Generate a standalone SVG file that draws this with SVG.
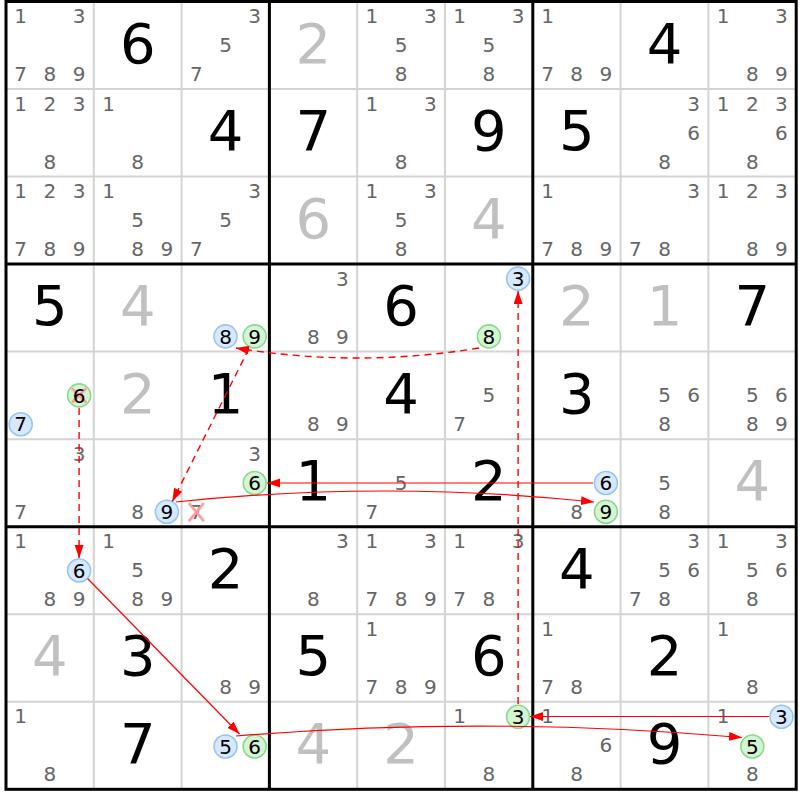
<svg xmlns="http://www.w3.org/2000/svg" width="800" height="800" viewBox="0 0 800 800">
<style>
text{font-family:"DejaVu Sans",Verdana,sans-serif;text-anchor:middle}
.c{font-size:20px;fill:#666}
.k{font-size:20px;fill:#000}
.g{font-size:56px;fill:#000}
.s{font-size:56px;fill:#c0c0c0}
.bl{fill:#d6e9ff;stroke:#96c5f3;stroke-width:1.6}
.gr{fill:#d4f4d4;stroke:#8ad98a;stroke-width:1.6}
.x{stroke:#ff9c9c;stroke-width:2.6;fill:none}
.thin{stroke:#d4d4d4;stroke-width:2}
.thick{stroke:#000;stroke-width:3}
.dash{fill:none;stroke:#ff0000;stroke-width:1.4;stroke-dasharray:7 5;marker-end:url(#ah)}
.solid{fill:none;stroke:#ff0000;stroke-width:1.2;marker-end:url(#ah)}
</style>
<defs>
<marker id="ah" markerUnits="userSpaceOnUse" markerWidth="14" markerHeight="10" refX="13" refY="4.5" orient="auto">
<path d="M0,0 L13,4.5 L0,9 z" fill="#ff0000"/>
</marker>
</defs>
<rect x="0" y="0" width="800" height="800" fill="#fff"/>
<g id="grid">
<path class="thin" d="M93.8,1.5V789.3M181.6,1.5V789.3M357.2,1.5V789.3M445,1.5V789.3M620.6,1.5V789.3M708.4,1.5V789.3M6,89H796.2M6,176.6H796.2M6,351.6H796.2M6,439.2H796.2M6,614.2H796.2M6,701.7H796.2"/>
<path class="thick" d="M269.4,1.5V789.3M532.8,1.5V789.3M6,264.1H796.2M6,526.7H796.2"/>
<rect x="6" y="1.5" width="790.2" height="787.8" fill="none" stroke="#000" stroke-width="3"/>
</g>
<!-- Row 0 -->
<g id="r0c0" transform="translate(6,1.5)"><text class="c" x="14.7" y="21.5">1</text><text class="c" x="73.1" y="21.5">3</text><text class="c" x="14.7" y="79.8">7</text><text class="c" x="43.9" y="79.8">8</text><text class="c" x="73.1" y="79.8">9</text></g>
<g id="r0c1" transform="translate(93.8,1.5)"><text class="g" x="43.9" y="61">6</text></g>
<g id="r0c2" transform="translate(181.6,1.5)"><text class="c" x="73.1" y="21.5">3</text><text class="c" x="43.9" y="50.6">5</text><text class="c" x="14.7" y="79.8">7</text></g>
<g id="r0c3" transform="translate(269.4,1.5)"><text class="s" x="43.9" y="61">2</text></g>
<g id="r0c4" transform="translate(357.2,1.5)"><text class="c" x="14.7" y="21.5">1</text><text class="c" x="73.1" y="21.5">3</text><text class="c" x="43.9" y="50.6">5</text><text class="c" x="43.9" y="79.8">8</text></g>
<g id="r0c5" transform="translate(445,1.5)"><text class="c" x="14.7" y="21.5">1</text><text class="c" x="73.1" y="21.5">3</text><text class="c" x="43.9" y="50.6">5</text><text class="c" x="43.9" y="79.8">8</text></g>
<g id="r0c6" transform="translate(532.8,1.5)"><text class="c" x="14.7" y="21.5">1</text><text class="c" x="14.7" y="79.8">7</text><text class="c" x="43.9" y="79.8">8</text><text class="c" x="73.1" y="79.8">9</text></g>
<g id="r0c7" transform="translate(620.6,1.5)"><text class="g" x="43.9" y="61">4</text></g>
<g id="r0c8" transform="translate(708.4,1.5)"><text class="c" x="14.7" y="21.5">1</text><text class="c" x="73.1" y="21.5">3</text><text class="c" x="43.9" y="79.8">8</text><text class="c" x="73.1" y="79.8">9</text></g>
<!-- Row 1 -->
<g id="r1c0" transform="translate(6,89)"><text class="c" x="14.7" y="21.5">1</text><text class="c" x="43.9" y="21.5">2</text><text class="c" x="73.1" y="21.5">3</text><text class="c" x="43.9" y="79.8">8</text></g>
<g id="r1c1" transform="translate(93.8,89)"><text class="c" x="14.7" y="21.5">1</text><text class="c" x="43.9" y="79.8">8</text></g>
<g id="r1c2" transform="translate(181.6,89)"><text class="g" x="43.9" y="61">4</text></g>
<g id="r1c3" transform="translate(269.4,89)"><text class="g" x="43.9" y="61">7</text></g>
<g id="r1c4" transform="translate(357.2,89)"><text class="c" x="14.7" y="21.5">1</text><text class="c" x="73.1" y="21.5">3</text><text class="c" x="43.9" y="79.8">8</text></g>
<g id="r1c5" transform="translate(445,89)"><text class="g" x="43.9" y="61">9</text></g>
<g id="r1c6" transform="translate(532.8,89)"><text class="g" x="43.9" y="61">5</text></g>
<g id="r1c7" transform="translate(620.6,89)"><text class="c" x="73.1" y="21.5">3</text><text class="c" x="73.1" y="50.6">6</text><text class="c" x="43.9" y="79.8">8</text></g>
<g id="r1c8" transform="translate(708.4,89)"><text class="c" x="14.7" y="21.5">1</text><text class="c" x="43.9" y="21.5">2</text><text class="c" x="73.1" y="21.5">3</text><text class="c" x="73.1" y="50.6">6</text><text class="c" x="43.9" y="79.8">8</text></g>
<!-- Row 2 -->
<g id="r2c0" transform="translate(6,176.6)"><text class="c" x="14.7" y="21.5">1</text><text class="c" x="43.9" y="21.5">2</text><text class="c" x="73.1" y="21.5">3</text><text class="c" x="14.7" y="79.8">7</text><text class="c" x="43.9" y="79.8">8</text><text class="c" x="73.1" y="79.8">9</text></g>
<g id="r2c1" transform="translate(93.8,176.6)"><text class="c" x="14.7" y="21.5">1</text><text class="c" x="43.9" y="50.6">5</text><text class="c" x="43.9" y="79.8">8</text><text class="c" x="73.1" y="79.8">9</text></g>
<g id="r2c2" transform="translate(181.6,176.6)"><text class="c" x="73.1" y="21.5">3</text><text class="c" x="43.9" y="50.6">5</text><text class="c" x="14.7" y="79.8">7</text></g>
<g id="r2c3" transform="translate(269.4,176.6)"><text class="s" x="43.9" y="61">6</text></g>
<g id="r2c4" transform="translate(357.2,176.6)"><text class="c" x="14.7" y="21.5">1</text><text class="c" x="73.1" y="21.5">3</text><text class="c" x="43.9" y="50.6">5</text><text class="c" x="43.9" y="79.8">8</text></g>
<g id="r2c5" transform="translate(445,176.6)"><text class="s" x="43.9" y="61">4</text></g>
<g id="r2c6" transform="translate(532.8,176.6)"><text class="c" x="14.7" y="21.5">1</text><text class="c" x="14.7" y="79.8">7</text><text class="c" x="43.9" y="79.8">8</text><text class="c" x="73.1" y="79.8">9</text></g>
<g id="r2c7" transform="translate(620.6,176.6)"><text class="c" x="73.1" y="21.5">3</text><text class="c" x="14.7" y="79.8">7</text><text class="c" x="43.9" y="79.8">8</text></g>
<g id="r2c8" transform="translate(708.4,176.6)"><text class="c" x="14.7" y="21.5">1</text><text class="c" x="43.9" y="21.5">2</text><text class="c" x="73.1" y="21.5">3</text><text class="c" x="43.9" y="79.8">8</text><text class="c" x="73.1" y="79.8">9</text></g>
<!-- Row 3 -->
<g id="r3c0" transform="translate(6,264.1)"><text class="g" x="43.9" y="61">5</text></g>
<g id="r3c1" transform="translate(93.8,264.1)"><text class="s" x="43.9" y="61">4</text></g>
<g id="r3c2" transform="translate(181.6,264.1)"><circle class="bl" cx="43.9" cy="72.3" r="11.5"/><text class="k" x="43.9" y="79.6">8</text><circle class="gr" cx="73.1" cy="72.3" r="11.5"/><text class="k" x="73.1" y="79.6">9</text></g>
<g id="r3c3" transform="translate(269.4,264.1)"><text class="c" x="73.1" y="21.5">3</text><text class="c" x="43.9" y="79.8">8</text><text class="c" x="73.1" y="79.8">9</text></g>
<g id="r3c4" transform="translate(357.2,264.1)"><text class="g" x="43.9" y="61">6</text></g>
<g id="r3c5" transform="translate(445,264.1)"><circle class="bl" cx="73.1" cy="14.5" r="11.5"/><text class="k" x="73.1" y="21.8">3</text><circle class="gr" cx="43.9" cy="72.3" r="11.5"/><text class="k" x="43.9" y="79.6">8</text></g>
<g id="r3c6" transform="translate(532.8,264.1)"><text class="s" x="43.9" y="61">2</text></g>
<g id="r3c7" transform="translate(620.6,264.1)"><text class="s" x="43.9" y="61">1</text></g>
<g id="r3c8" transform="translate(708.4,264.1)"><text class="g" x="43.9" y="61">7</text></g>
<!-- Row 4 -->
<g id="r4c0" transform="translate(6,351.6)"><circle class="gr" cx="73.1" cy="43.8" r="11.5"/><path class="x" d="M66,36.7L80.2,50.9M80.2,36.7L66,50.9"/><text class="k" x="73.1" y="51.1">6</text><circle class="bl" cx="14.7" cy="72.6" r="11.5"/><text class="k" x="14.7" y="79.9">7</text></g>
<g id="r4c1" transform="translate(93.8,351.6)"><text class="s" x="43.9" y="61">2</text></g>
<g id="r4c2" transform="translate(181.6,351.6)"><text class="g" x="43.9" y="61">1</text></g>
<g id="r4c3" transform="translate(269.4,351.6)"><text class="c" x="43.9" y="79.8">8</text><text class="c" x="73.1" y="79.8">9</text></g>
<g id="r4c4" transform="translate(357.2,351.6)"><text class="g" x="43.9" y="61">4</text></g>
<g id="r4c5" transform="translate(445,351.6)"><text class="c" x="43.9" y="50.6">5</text><text class="c" x="14.7" y="79.8">7</text></g>
<g id="r4c6" transform="translate(532.8,351.6)"><text class="g" x="43.9" y="61">3</text></g>
<g id="r4c7" transform="translate(620.6,351.6)"><text class="c" x="43.9" y="50.6">5</text><text class="c" x="73.1" y="50.6">6</text><text class="c" x="43.9" y="79.8">8</text></g>
<g id="r4c8" transform="translate(708.4,351.6)"><text class="c" x="43.9" y="50.6">5</text><text class="c" x="73.1" y="50.6">6</text><text class="c" x="43.9" y="79.8">8</text><text class="c" x="73.1" y="79.8">9</text></g>
<!-- Row 5 -->
<g id="r5c0" transform="translate(6,439.2)"><text class="c" x="73.1" y="21.5">3</text><text class="c" x="14.7" y="79.8">7</text></g>
<g id="r5c1" transform="translate(93.8,439.2)"><text class="c" x="43.9" y="79.8">8</text><circle class="bl" cx="73.1" cy="72.6" r="11.5"/><text class="k" x="73.1" y="79.9">9</text></g>
<g id="r5c2" transform="translate(181.6,439.2)"><text class="c" x="73.1" y="21.5">3</text><circle class="gr" cx="73.1" cy="43.8" r="11.5"/><text class="k" x="73.1" y="51.1">6</text><text class="c" x="14.7" y="79.8">7</text><path class="x" d="M7.2,63.9L22.2,81.9M22.2,63.9L7.2,81.9"/></g>
<g id="r5c3" transform="translate(269.4,439.2)"><text class="g" x="43.9" y="61">1</text></g>
<g id="r5c4" transform="translate(357.2,439.2)"><text class="c" x="43.9" y="50.6">5</text><text class="c" x="14.7" y="79.8">7</text></g>
<g id="r5c5" transform="translate(445,439.2)"><text class="g" x="43.9" y="61">2</text></g>
<g id="r5c6" transform="translate(532.8,439.2)"><circle class="bl" cx="73.1" cy="43.8" r="11.5"/><text class="k" x="73.1" y="51.1">6</text><text class="c" x="43.9" y="79.8">8</text><circle class="gr" cx="73.1" cy="72.6" r="11.5"/><text class="k" x="73.1" y="79.9">9</text></g>
<g id="r5c7" transform="translate(620.6,439.2)"><text class="c" x="43.9" y="50.6">5</text><text class="c" x="43.9" y="79.8">8</text></g>
<g id="r5c8" transform="translate(708.4,439.2)"><text class="s" x="43.9" y="61">4</text></g>
<!-- Row 6 -->
<g id="r6c0" transform="translate(6,526.7)"><text class="c" x="14.7" y="21.5">1</text><circle class="bl" cx="73.1" cy="43.8" r="11.5"/><text class="k" x="73.1" y="51.1">6</text><text class="c" x="43.9" y="79.8">8</text><text class="c" x="73.1" y="79.8">9</text></g>
<g id="r6c1" transform="translate(93.8,526.7)"><text class="c" x="14.7" y="21.5">1</text><text class="c" x="43.9" y="50.6">5</text><text class="c" x="43.9" y="79.8">8</text><text class="c" x="73.1" y="79.8">9</text></g>
<g id="r6c2" transform="translate(181.6,526.7)"><text class="g" x="43.9" y="61">2</text></g>
<g id="r6c3" transform="translate(269.4,526.7)"><text class="c" x="73.1" y="21.5">3</text><text class="c" x="43.9" y="79.8">8</text></g>
<g id="r6c4" transform="translate(357.2,526.7)"><text class="c" x="14.7" y="21.5">1</text><text class="c" x="73.1" y="21.5">3</text><text class="c" x="14.7" y="79.8">7</text><text class="c" x="43.9" y="79.8">8</text><text class="c" x="73.1" y="79.8">9</text></g>
<g id="r6c5" transform="translate(445,526.7)"><text class="c" x="14.7" y="21.5">1</text><text class="c" x="73.1" y="21.5">3</text><text class="c" x="14.7" y="79.8">7</text><text class="c" x="43.9" y="79.8">8</text></g>
<g id="r6c6" transform="translate(532.8,526.7)"><text class="g" x="43.9" y="61">4</text></g>
<g id="r6c7" transform="translate(620.6,526.7)"><text class="c" x="73.1" y="21.5">3</text><text class="c" x="43.9" y="50.6">5</text><text class="c" x="73.1" y="50.6">6</text><text class="c" x="14.7" y="79.8">7</text><text class="c" x="43.9" y="79.8">8</text></g>
<g id="r6c8" transform="translate(708.4,526.7)"><text class="c" x="14.7" y="21.5">1</text><text class="c" x="73.1" y="21.5">3</text><text class="c" x="43.9" y="50.6">5</text><text class="c" x="73.1" y="50.6">6</text><text class="c" x="43.9" y="79.8">8</text></g>
<!-- Row 7 -->
<g id="r7c0" transform="translate(6,614.2)"><text class="s" x="43.9" y="61">4</text></g>
<g id="r7c1" transform="translate(93.8,614.2)"><text class="g" x="43.9" y="61">3</text></g>
<g id="r7c2" transform="translate(181.6,614.2)"><text class="c" x="43.9" y="79.8">8</text><text class="c" x="73.1" y="79.8">9</text></g>
<g id="r7c3" transform="translate(269.4,614.2)"><text class="g" x="43.9" y="61">5</text></g>
<g id="r7c4" transform="translate(357.2,614.2)"><text class="c" x="14.7" y="21.5">1</text><text class="c" x="14.7" y="79.8">7</text><text class="c" x="43.9" y="79.8">8</text><text class="c" x="73.1" y="79.8">9</text></g>
<g id="r7c5" transform="translate(445,614.2)"><text class="g" x="43.9" y="61">6</text></g>
<g id="r7c6" transform="translate(532.8,614.2)"><text class="c" x="14.7" y="21.5">1</text><text class="c" x="14.7" y="79.8">7</text><text class="c" x="43.9" y="79.8">8</text></g>
<g id="r7c7" transform="translate(620.6,614.2)"><text class="g" x="43.9" y="61">2</text></g>
<g id="r7c8" transform="translate(708.4,614.2)"><text class="c" x="14.7" y="21.5">1</text><text class="c" x="43.9" y="79.8">8</text></g>
<!-- Row 8 -->
<g id="r8c0" transform="translate(6,701.7)"><text class="c" x="14.7" y="21.5">1</text><text class="c" x="43.9" y="79.8">8</text></g>
<g id="r8c1" transform="translate(93.8,701.7)"><text class="g" x="43.9" y="61">7</text></g>
<g id="r8c2" transform="translate(181.6,701.7)"><circle class="bl" cx="43.9" cy="44.8" r="11.5"/><text class="k" x="43.9" y="52.1">5</text><circle class="gr" cx="73.1" cy="44.8" r="11.5"/><text class="k" x="73.1" y="52.1">6</text></g>
<g id="r8c3" transform="translate(269.4,701.7)"><text class="s" x="43.9" y="61">4</text></g>
<g id="r8c4" transform="translate(357.2,701.7)"><text class="s" x="43.9" y="61">2</text></g>
<g id="r8c5" transform="translate(445,701.7)"><text class="c" x="14.7" y="21.5">1</text><circle class="gr" cx="73.1" cy="15" r="11.5"/><text class="k" x="73.1" y="22.3">3</text><text class="c" x="43.9" y="79.8">8</text></g>
<g id="r8c6" transform="translate(532.8,701.7)"><text class="c" x="14.7" y="21.5">1</text><text class="c" x="73.1" y="50.6">6</text><text class="c" x="43.9" y="79.8">8</text></g>
<g id="r8c7" transform="translate(620.6,701.7)"><text class="g" x="43.9" y="61">9</text></g>
<g id="r8c8" transform="translate(708.4,701.7)"><text class="c" x="14.7" y="21.5">1</text><circle class="bl" cx="73.1" cy="15" r="11.5"/><text class="k" x="73.1" y="22.3">3</text><circle class="gr" cx="43.9" cy="44.8" r="11.5"/><text class="k" x="43.9" y="52.1">5</text><text class="c" x="43.9" y="79.8">8</text></g>
<g id="connectors">
<path class="dash" d="M479,348 Q358,368 236,348"/>
<path class="dash" d="M248.9,348.6 L172.3,501.4"/>
<path class="dash" d="M79.1,408 L79.1,558"/>
<path class="solid" d="M87.6,578.5 L239.5,734"/>
<path class="solid" d="M236,736 Q489,715.5 742,737.5"/>
<path class="solid" d="M176,502 Q385,480 594,502"/>
<path class="solid" d="M593,483 L267,483"/>
<path class="solid" d="M769,716.5 L530,716.5"/>
<path class="dash" d="M518.1,704 L518.1,291"/>
</g>
</svg>
